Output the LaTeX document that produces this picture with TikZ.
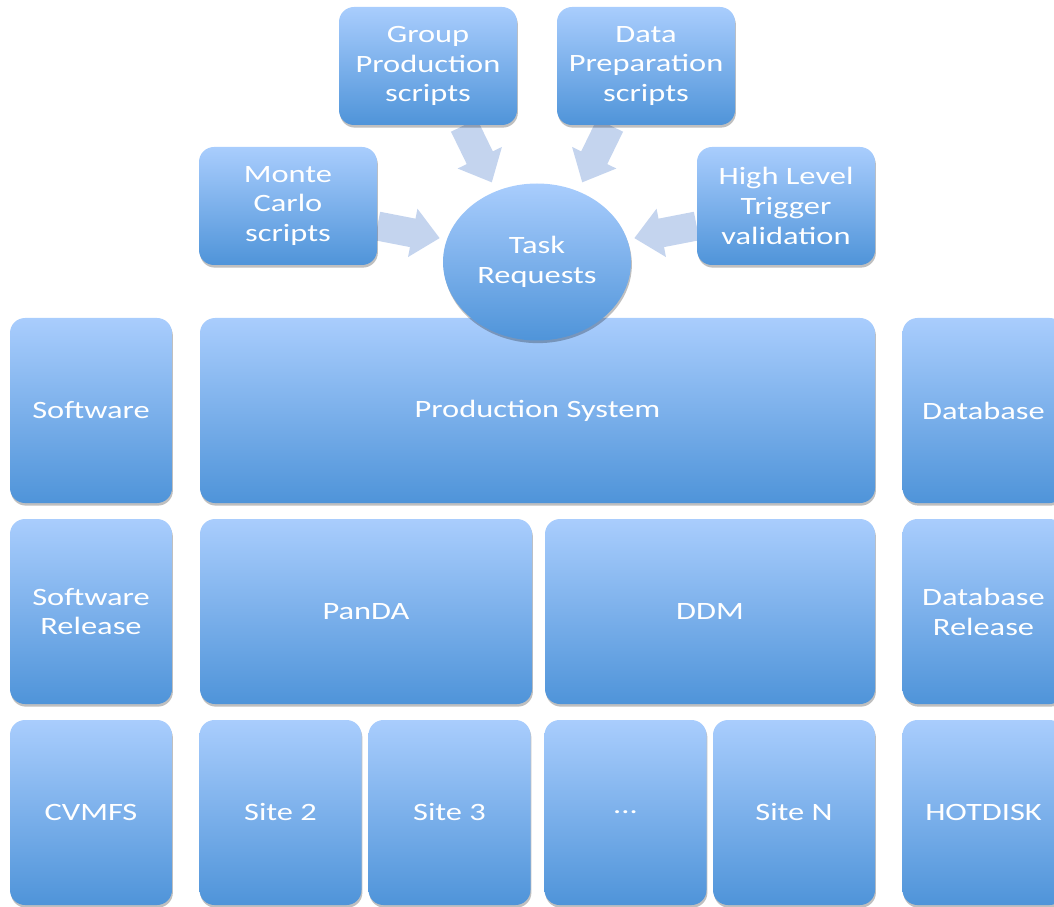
\documentclass[tikz,border=0pt]{standalone}
\usepackage{fontspec}
\setmainfont{Carlito}[FakeStretch=1.3]
\definecolor{boxtop}{HTML}{A9CDFD}
\definecolor{boxbottom}{HTML}{4F94D9}
\definecolor{arrowfill}{HTML}{C4D4EE}
\usepackage{tikz}
\usetikzlibrary{arrows.meta, positioning, shapes, shadows, backgrounds}

\begin{document}
\begin{tikzpicture}[
    block/.style={rectangle, rounded corners=0.3cm, top color=boxtop,
                  bottom color=boxbottom, draw=none, text=white,
                  font=\fontsize{14.2}{17}\selectfont, align=center,
                  inner sep=0pt,
                  drop shadow={shadow xshift=0.5pt, shadow yshift=-1.5pt,
                               fill=black, opacity=0.25}},
    source/.style={block, minimum width=3.56cm, minimum height=2.36cm},
    side/.style={block, minimum width=3.24cm, minimum height=3.70cm},
    site/.style={block, minimum width=3.24cm, minimum height=3.70cm},
    request/.style={block, ellipse, minimum width=3.76cm, minimum height=3.14cm},
    flow/.style={arrowfill, line width=0.58cm,
                 -{Triangle[length=0.55cm, width=0.95cm]}}
  ]
    \clip (0, 0) rectangle (21.08, 18.12);
    % Script sources (top)
    \node[source] (gp)  at (8.56, 16.80)  {Group\\Production\\scripts};
    \node[source] (dp)  at (12.92, 16.80) {Data\\Preparation\\scripts};
    \node[source] (mc)  at (5.76, 14.00)  {Monte\\Carlo\\scripts};
    \node[source] (hlt) at (15.72, 14.00) {High Level\\Trigger\\validation};
    % Row 1 (y=9.91)
    \node[side] (sw)   at (1.82, 9.91)  {Software};
    \node[block, minimum width=13.5cm, minimum height=3.70cm] (prod)
      at (10.75, 9.91) {Production System};
    \node[side] (db)   at (19.67, 9.91) {Database};
    % Task requests sit on top of the production system
    \node[request] (req) at (10.74, 12.88) {Task\\Requests};
    % Row 2 (y=5.89)
    \node[side] (swrel) at (1.82, 5.89) {Software\\Release};
    \node[block, minimum width=6.64cm, minimum height=3.70cm] (panda)
      at (7.32, 5.89) {PanDA};
    \node[block, minimum width=6.60cm, minimum height=3.70cm] (ddm)
      at (14.20, 5.89) {DDM};
    \node[side] (dbrel) at (19.67, 5.89) {Database\\Release};
    % Row 3 (y=1.87)
    \node[side] (cvmfs) at (1.82, 1.87)  {CVMFS};
    \node[site] (s2)    at (5.61, 1.87)  {Site 2};
    \node[site] (s3)    at (8.99, 1.87)  {Site 3};
    \node[site] (sdots) at (12.51, 1.87) {...};
    \node[site] (sn)    at (15.88, 1.87) {Site N};
    \node[side] (hot)   at (19.67, 1.87) {HOTDISK};
    % Arrows into the task requests
    \begin{scope}[on background layer]
      \draw[flow, shorten >=0.14cm] ([yshift=-0.4cm]mc.east) -- (req.166);
      \draw[flow, shorten >=0.14cm] ([yshift=-0.4cm]hlt.west) -- (req.14);
      \draw[flow, shorten >=0.19cm] ([xshift=0.72cm]gp.south) -- (req.120);
      \draw[flow, shorten >=0.19cm] ([xshift=-0.72cm]dp.south) -- (req.60);
    \end{scope}
  \end{tikzpicture}
\end{document}
